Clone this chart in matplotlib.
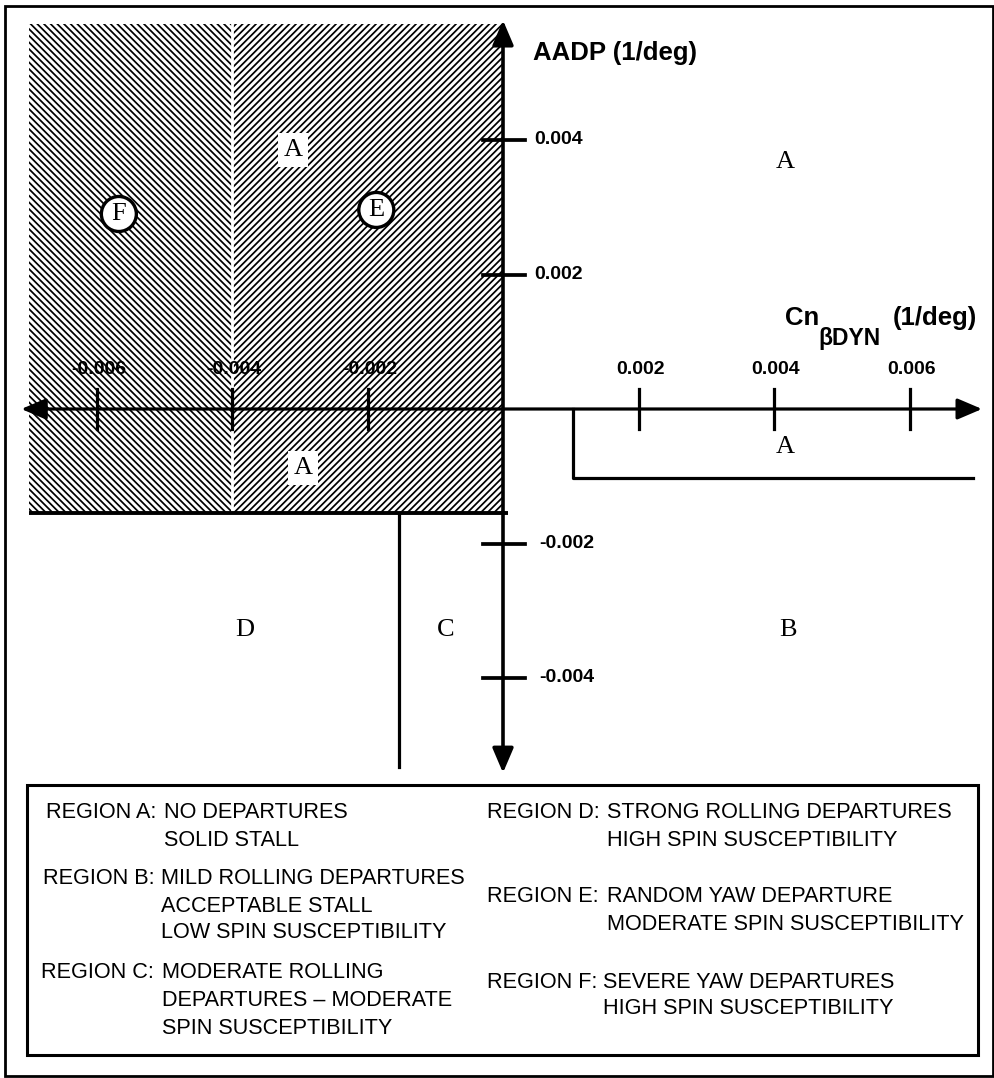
import matplotlib
matplotlib.use('Agg')
import matplotlib.pyplot as plt
from matplotlib.patches import Rectangle, Ellipse

# ---------------- data ----------------
x_ticks = [-0.006, -0.004, -0.002, 0.002, 0.004, 0.006]
x_tick_labels = ['-0.006', '-0.004', '-0.002', '0.002', '0.004', '0.006']
y_ticks = [0.004, 0.002, -0.002, -0.004]
y_tick_labels = ['0.004', '0.002', '-0.002', '-0.004']

# hatched regions F (left) and E (right), split at x = -0.004
hatch_x_edges = [-0.0070, -0.0040, 0.0]
hatch_y_range = [-0.00155, 0.00573]
hatch_patterns = ['\\\\\\\\\\', '/////']

# C / D boundary
cd_boundary_x = -0.00154
cd_boundary_y = [-0.00155, -0.00532]
# A / B boundary (right of y axis, below x axis)
ab_boundary_x = [0.00103, 0.00694]
ab_boundary_y = [0.0, -0.00102]

# region letters
region_letters = ['A', 'A', 'A', 'A', 'D', 'C', 'B']
region_x = [-0.00310, -0.00295, 0.00416, 0.00416, -0.00381, -0.00084, 0.00421]
region_y = [0.00385, -0.00088, 0.00367, -0.00057, -0.00329, -0.00329, -0.00329]
region_boxed = [True, True, False, False, False, False, False]
circled_letters = ['F', 'E']
circled_x = [-0.00567, -0.00187]
circled_y = [0.00290, 0.00296]

# axis arrow extents
axis_x_range = [-0.00711, 0.00707]
axis_y_range = [-0.00541, 0.00578]

y_axis_title = 'AADP (1/deg)'
x_axis_title_main = 'Cn'
x_axis_title_sub = 'βDYN'
x_axis_title_unit = '(1/deg)'

legend_left = [
    ('REGION A:', ['NO DEPARTURES', 'SOLID STALL']),
    ('REGION B:', ['MILD ROLLING DEPARTURES', 'ACCEPTABLE STALL', 'LOW SPIN SUSCEPTIBILITY']),
    ('REGION C:', ['MODERATE ROLLING', 'DEPARTURES \u2013 MODERATE', 'SPIN SUSCEPTIBILITY']),
]
legend_right = [
    ('REGION D:', ['STRONG ROLLING DEPARTURES', 'HIGH SPIN SUSCEPTIBILITY']),
    ('REGION E:', ['RANDOM YAW DEPARTURE', 'MODERATE SPIN SUSCEPTIBILITY']),
    ('REGION F:', ['SEVERE YAW DEPARTURES', 'HIGH SPIN SUSCEPTIBILITY']),
]

# ---------------- layout ----------------
W, H, DPI = 995, 1078, 100
X0_PX, Y0_PX = 503.0, 409.0          # pixel position of origin
SX, SY = 67750.0, 67250.0            # pixels per unit

def X(px):
    return (px - X0_PX) / SX

def Y(py):
    return (Y0_PX - py) / SY

def F(px, py):
    return (px / W, 1.0 - py / H)

plt.rcParams['hatch.linewidth'] = 1.25

fig = plt.figure(figsize=(W / DPI, H / DPI), dpi=DPI)
fig.patch.set_facecolor('white')
ax = fig.add_axes([0, 0, 1, 1])
ax.set_xlim(X(0), X(W))
ax.set_ylim(Y(H), Y(0))
ax.axis('off')

LW = 2.3
SANS = ['Liberation Sans', 'DejaVu Sans']
SERIF = ['Liberation Serif', 'DejaVu Serif']

# hatched regions
for i in range(2):
    ax.add_patch(Rectangle((hatch_x_edges[i], hatch_y_range[0]),
                           hatch_x_edges[i + 1] - hatch_x_edges[i],
                           hatch_y_range[1] - hatch_y_range[0],
                           facecolor='white', edgecolor='black', linewidth=0,
                           hatch=hatch_patterns[i], zorder=1))
ax.plot([hatch_x_edges[1]] * 2, hatch_y_range, color='white', lw=2.0, zorder=2)
ax.plot([hatch_x_edges[0], hatch_x_edges[2] + 5.0 / SX], [hatch_y_range[0]] * 2,
        color='black', lw=2.8, solid_capstyle='butt', zorder=3)

# boundaries
ax.plot([cd_boundary_x] * 2, cd_boundary_y, color='black', lw=LW, zorder=3)
ax.plot([ab_boundary_x[0], ab_boundary_x[0], ab_boundary_x[1]],
        [ab_boundary_y[0], ab_boundary_y[1], ab_boundary_y[1]],
        color='black', lw=LW, zorder=3)

# axes with arrows
arrow_style = '<|-|>,head_length=0.75,head_width=0.32'
ax.annotate('', xy=(axis_x_range[1], 0), xytext=(axis_x_range[0], 0),
            arrowprops=dict(arrowstyle=arrow_style, lw=LW, color='black',
                            shrinkA=0, shrinkB=0, mutation_scale=20), zorder=4)
ax.annotate('', xy=(0, axis_y_range[1]), xytext=(0, axis_y_range[0]),
            arrowprops=dict(arrowstyle=arrow_style, lw=LW + 0.3, color='black',
                            shrinkA=0, shrinkB=0, mutation_scale=20), zorder=4)

# ticks
tx = 20.0 / SY
ty = 20.5 / SX
for t, lab in zip(x_ticks, x_tick_labels):
    ax.plot([t, t], [-tx, tx], color='black', lw=LW, zorder=4)
    ax.annotate(lab, xy=(t, 0), xytext=(2, 39), textcoords='offset pixels',
                ha='center', va='center', fontsize=14, fontweight='bold',
                family=SANS, zorder=5)
for t, lab in zip(y_ticks, y_tick_labels):
    ax.plot([-ty, ty + 1.5 / SX], [t, t], color='black', lw=LW + 0.4, zorder=4)
    off = 31 if t > 0 else 36
    ax.annotate(lab, xy=(0, t), xytext=(off, 0), textcoords='offset pixels',
                ha='left', va='center', fontsize=14, fontweight='bold',
                family=SANS, zorder=5)

# axis titles
ax.text(X(533), Y(53), y_axis_title, ha='left', va='center', fontsize=18.5,
        fontweight='bold', family=SANS)
ax.text(X(785), Y(318), x_axis_title_main, ha='left', va='center', fontsize=18.5,
        fontweight='bold', family=SANS)
ax.text(X(818), Y(339), x_axis_title_sub, ha='left', va='center', fontsize=16.5,
        fontweight='bold', family=SANS)
ax.text(X(893), Y(318), x_axis_title_unit, ha='left', va='center', fontsize=18.5,
        fontweight='bold', family=SANS)

# region letters
for lab, x, y, boxed in zip(region_letters, region_x, region_y, region_boxed):
    kw = {}
    if boxed:
        kw['bbox'] = dict(boxstyle='square,pad=0.22', facecolor='white',
                          edgecolor='none')
    ax.text(x, y, lab, ha='center', va='center', fontsize=19, family=SERIF,
            zorder=6, **kw)
for lab, x, y in zip(circled_letters, circled_x, circled_y):
    ax.add_patch(Ellipse((x, y), 35.0 / SX, 35.0 / SY, facecolor='white',
                         edgecolor='black', lw=2.4, zorder=6))
    ax.text(x, y, lab, ha='center', va='center', fontsize=19, family=SERIF,
            zorder=7)

# frames
fig.add_artist(Rectangle(F(5, 1076), (993 - 5) / W, (1076 - 6) / H,
                         transform=fig.transFigure, fill=False,
                         edgecolor='black', lw=2.0))
fig.add_artist(Rectangle(F(27, 1055), (978 - 27) / W, (1055 - 785) / H,
                         transform=fig.transFigure, fill=False,
                         edgecolor='black', lw=2.2))

# legend font: size fitted so a reference line has the measured width
leg_kw = dict(family=SANS)
renderer = fig.canvas.get_renderer()
probe = fig.text(0, 0, 'STRONG ROLLING DEPARTURES', fontsize=15, **leg_kw)
w = probe.get_window_extent(renderer).width
probe.remove()
leg_fs = 15 * 347.0 / w

left_label_x = [46, 43, 41]
left_desc_x = [164, 161, 162]
left_y = [[813, 840], [878, 906, 933], [972, 1000, 1028]]
right_label_x = [487, 487, 487]
right_desc_x = [607, 607, 603]
right_y = [[813, 840], [897, 925], [982, 1009]]

for block, lx, dx, ys in [(legend_left, left_label_x, left_desc_x, left_y),
                          (legend_right, right_label_x, right_desc_x, right_y)]:
    for (lab, lines), x1, x2, yy in zip(block, lx, dx, ys):
        fig.text(*F(x1, yy[0]), lab, ha='left', va='center', fontsize=leg_fs,
                 **leg_kw)
        for line, y in zip(lines, yy):
            fig.text(*F(x2, y), line, ha='left', va='center', fontsize=leg_fs,
                     **leg_kw)

fig.savefig('out.png', dpi=DPI, facecolor='white')
